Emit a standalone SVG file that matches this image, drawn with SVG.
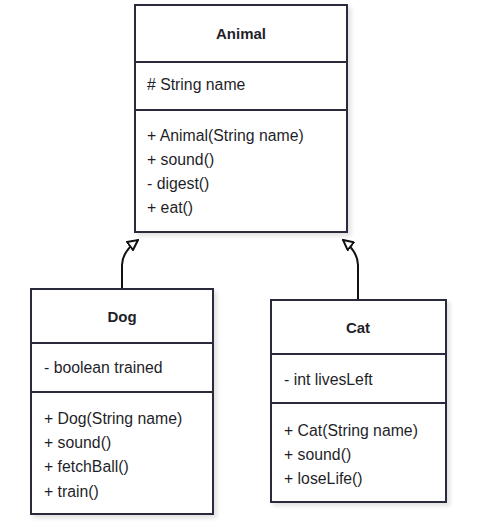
<svg xmlns="http://www.w3.org/2000/svg" width="500" height="523" viewBox="0 0 500 523">
<defs>
<style>
.box{fill:#fff;stroke:#2a2a3c;stroke-width:2}
.ln{stroke:#2a2a3c;stroke-width:2}
text{font-family:"Liberation Sans",Arial,sans-serif;font-size:15.8px;fill:#1f1f2a}
.t{font-weight:bold;text-anchor:middle;font-size:15px}
.c{fill:none;stroke:#111;stroke-width:2}
</style>
<filter id="sh" x="-5%" y="-5%" width="115%" height="115%"><feDropShadow dx="3" dy="3" stdDeviation="2" flood-color="#000" flood-opacity="0.12"/></filter>
<marker id="tri" viewBox="0 0 12 12" refX="11" refY="6" markerWidth="12" markerHeight="12" markerUnits="userSpaceOnUse" orient="auto"><path d="M1,1 L11,6 L1,11 Z" fill="#fff" stroke="#111" stroke-width="2"/></marker>
</defs>
<g id="connectors">
<path class="c" d="M122,289 V265 Q122,252 138,240" marker-end="url(#tri)"/>
<path class="c" d="M358,300 V265 Q358,252 343,240" marker-end="url(#tri)"/>
</g>
<g id="Animal">
<rect class="box" x="135" y="5" width="212" height="227" filter="url(#sh)"/>
<line class="ln" x1="135" y1="62" x2="347" y2="62"/>
<line class="ln" x1="135" y1="110" x2="347" y2="110"/>
<text class="t" x="241" y="39">Animal</text>
<text x="147" y="90"># String name</text>
<text x="147" y="141">+ Animal(String name)</text>
<text x="147" y="165">+ sound()</text>
<text x="147" y="189">- digest()</text>
<text x="147" y="213">+ eat()</text>
</g>
<g id="Dog">
<rect class="box" x="31" y="289" width="182" height="225" filter="url(#sh)"/>
<line class="ln" x1="31" y1="343" x2="213" y2="343"/>
<line class="ln" x1="31" y1="392" x2="213" y2="392"/>
<text class="t" x="122" y="322">Dog</text>
<text x="44" y="373">- boolean trained</text>
<text x="44" y="424">+ Dog(String name)</text>
<text x="44" y="448">+ sound()</text>
<text x="44" y="472">+ fetchBall()</text>
<text x="44" y="497">+ train()</text>
</g>
<g id="Cat">
<rect class="box" x="271" y="300" width="175" height="202" filter="url(#sh)"/>
<line class="ln" x1="271" y1="354" x2="446" y2="354"/>
<line class="ln" x1="271" y1="403" x2="446" y2="403"/>
<text class="t" x="358" y="333">Cat</text>
<text x="284" y="385">- int livesLeft</text>
<text x="284" y="436">+ Cat(String name)</text>
<text x="284" y="460">+ sound()</text>
<text x="284" y="484">+ loseLife()</text>
</g>
</svg>
